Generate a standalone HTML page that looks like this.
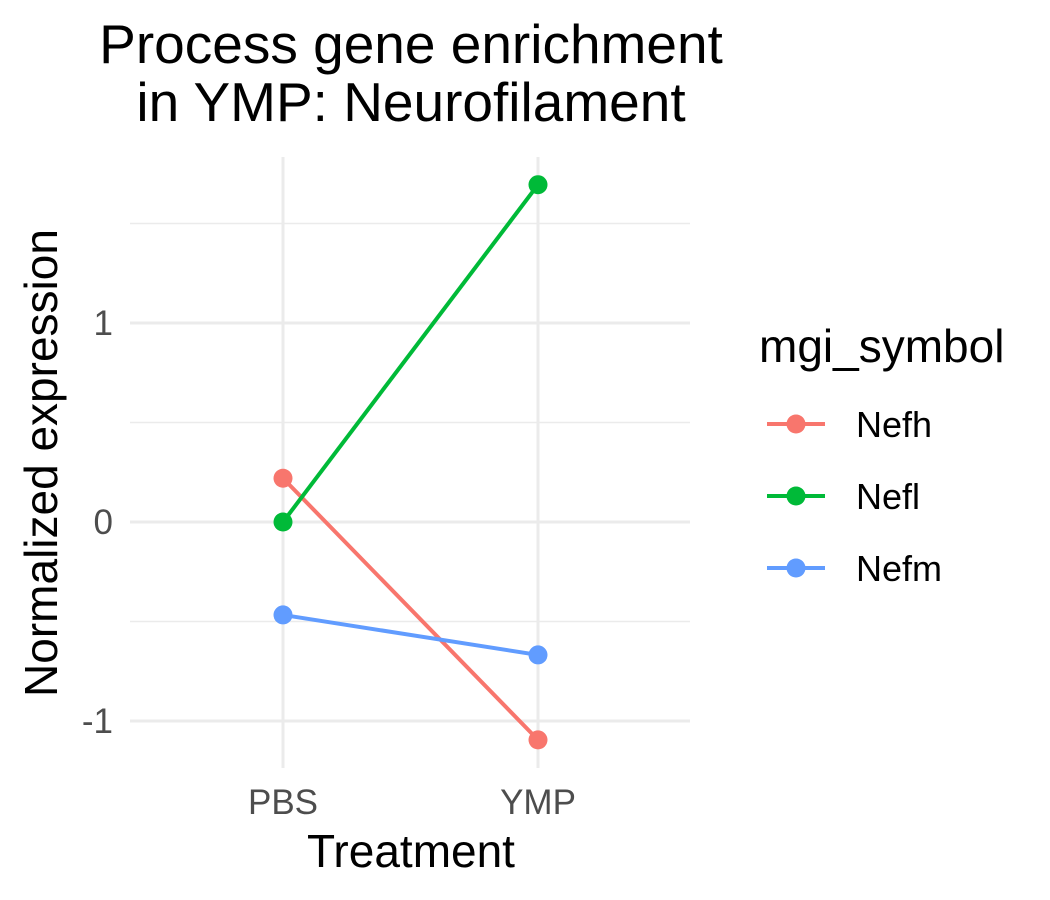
<!DOCTYPE html>
<html><head><meta charset="utf-8"><style>
html,body{margin:0;padding:0;background:#fff;width:1050px;height:900px;overflow:hidden}
svg text{font-family:"Liberation Sans",sans-serif}
</style></head><body>
<svg id="chart" width="1050" height="900" xmlns="http://www.w3.org/2000/svg">
<text x="411" y="63" font-size="55" text-anchor="middle">Process gene enrichment</text>
<text x="411" y="121" font-size="55" text-anchor="middle">in YMP: Neurofilament</text>
<g id="grid"></g><g id="marks"></g><g id="axes"></g>
<text x="411" y="867" font-size="46" text-anchor="middle">Treatment</text>
<text transform="translate(57,463) rotate(-90)" font-size="46" text-anchor="middle">Normalized expression</text>
<text x="759" y="362" font-size="46">mgi_symbol</text>
<g id="legend"></g>
</svg>
<script>
const categories=["PBS","YMP"];
const genes=["Nefh","Nefl","Nefm"];
const colors=["#F8766D","#00BA38","#619CFF"];
const nefh=[0.22,-1.095];
const nefl=[0,1.695];
const nefm=[-0.467,-0.668];
const yTicks=[-1,0,1];
const yTickLabels=["-1","0","1"];
const yMinor=[-0.5,0.5,1.5];
const series=[nefh,nefl,nefm];
const NS="http://www.w3.org/2000/svg";
const X0=130,X1=690,Y0=157,Y1=768;
function xs(i){return 283+i*255;}
function ys(v){return 522-v*199;}
function mk(t,a,p){const e=document.createElementNS(NS,t);for(const k in a)e.setAttribute(k,a[k]);p.appendChild(e);return e;}
const grid=document.getElementById('grid'),marks=document.getElementById('marks'),axes=document.getElementById('axes'),legend=document.getElementById('legend');
yMinor.forEach(v=>{const l=mk('line',{x1:X0,x2:X1,y1:ys(v),y2:ys(v),stroke:'#ebebeb','stroke-width':1.5},grid);

});
yTicks.forEach((v,i)=>{const l=mk('line',{x1:X0,x2:X1,y1:ys(v),y2:ys(v),stroke:'#ebebeb','stroke-width':3},grid);


const t=mk('text',{x:113,y:ys(v)+12,'font-size':35,fill:'#4d4d4d','text-anchor':'end'},axes);t.textContent=yTickLabels[i];

});
categories.forEach((c,i)=>{const l=mk('line',{x1:xs(i),x2:xs(i),y1:Y0,y2:Y1,stroke:'#ebebeb','stroke-width':3},grid);


const t=mk('text',{x:xs(i),y:814,'font-size':35,fill:'#4d4d4d','text-anchor':'middle'},axes);t.textContent=c;

});
series.forEach((s,g)=>{const l=mk('line',{x1:xs(0),y1:ys(s[0]),x2:xs(1),y2:ys(s[1]),stroke:colors[g],'stroke-width':4},marks);


s.forEach((v,i)=>{const c=mk('circle',{cx:xs(i),cy:ys(v),r:9.5,fill:colors[g]},marks);

});});
genes.forEach((g,i)=>{const y=424+i*72;
const grp=mk('g',{},legend);


mk('line',{x1:767,x2:825,y1:y,y2:y,stroke:colors[i],'stroke-width':4},grp);
mk('circle',{cx:796,cy:y,r:9.5,fill:colors[i]},grp);
const t=mk('text',{x:856,y:y+13,'font-size':36},grp);t.textContent=g;});
</script>
</body></html>
